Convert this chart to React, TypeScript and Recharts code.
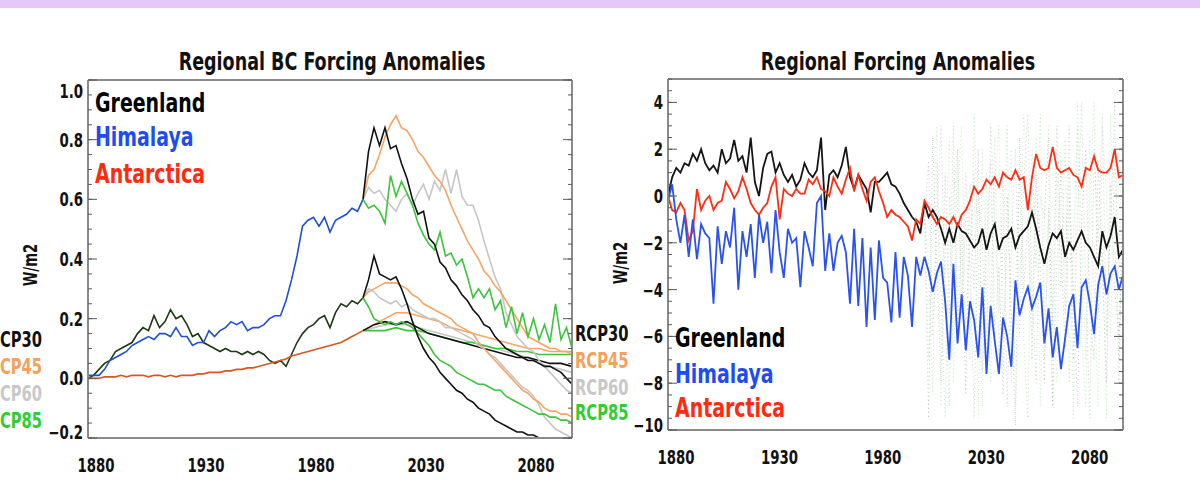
import React from 'react';
import { LineChart, Line, XAxis, YAxis } from 'recharts';

// year grids (categories)
const span = (a: number, b: number, step: number) => {
  const out: number[] = [];
  for (let v = a; v <= b + 1e-9; v += step) out.push(Math.round(v * 100) / 100);
  return out;
};
const HIST_YEARS = span(1880, 2005, 2.5);
const FUT_YEARS = span(2005, 2100, 2.5);
const FUT5_YEARS = span(2005, 2100, 5);
const R_YEARS = span(1880, 2100, 2);
const DOT_YEARS = span(2004, 2100, 2);

// ---- left panel: Regional BC forcing anomalies (W/m2)
const GRN_HIST = [0.00, 0.01, 0.03, 0.05, 0.06, 0.09, 0.10, 0.11, 0.12, 0.15,
  0.17, 0.16, 0.21, 0.17, 0.19, 0.23, 0.20, 0.21, 0.18, 0.14,
  0.15, 0.12, 0.11, 0.10, 0.09, 0.10, 0.09, 0.09, 0.08, 0.09,
  0.08, 0.09, 0.08, 0.06, 0.05, 0.06, 0.04, 0.08, 0.12, 0.15,
  0.17, 0.18, 0.20, 0.21, 0.17, 0.22, 0.25, 0.24, 0.26, 0.25, 0.27];
const HIM_HIST = [0.01, 0.01, 0.01, 0.03, 0.06, 0.07, 0.08, 0.09, 0.11, 0.12,
  0.13, 0.14, 0.13, 0.15, 0.15, 0.14, 0.17, 0.14, 0.14, 0.11,
  0.12, 0.12, 0.16, 0.14, 0.16, 0.17, 0.19, 0.18, 0.19, 0.16,
  0.17, 0.17, 0.18, 0.20, 0.21, 0.21, 0.26, 0.33, 0.41, 0.51,
  0.53, 0.54, 0.51, 0.54, 0.49, 0.53, 0.54, 0.55, 0.57, 0.56, 0.60];
const ANT_HIST = [0, 0, 0, 0.005, 0.005, 0.005, 0.01, 0.005, 0.01, 0.01,
  0.01, 0.005, 0.01, 0.01, 0.005, 0.01, 0.005, 0.01, 0.01, 0.01,
  0.015, 0.015, 0.02, 0.02, 0.02, 0.025, 0.025, 0.03, 0.03, 0.035,
  0.035, 0.04, 0.045, 0.05, 0.055, 0.06, 0.065, 0.075, 0.08, 0.085,
  0.09, 0.095, 0.10, 0.105, 0.11, 0.115, 0.12, 0.13, 0.14, 0.15, 0.16];

const HIM_RCP30 = [0.60, 0.76, 0.84, 0.78, 0.84, 0.77, 0.78, 0.72, 0.67, 0.60,
  0.55, 0.56, 0.47, 0.45, 0.39, 0.37, 0.33, 0.31, 0.28, 0.26,
  0.23, 0.21, 0.18, 0.17, 0.14, 0.12, 0.10, 0.09, 0.08, 0.07,
  0.06, 0.06, 0.05, 0.04, 0.04, 0.03, 0.02, 0.00, -0.02];
const HIM_RCP45 = [0.60, 0.68, 0.70, 0.75, 0.81, 0.85, 0.88, 0.84, 0.83, 0.80,
  0.76, 0.74, 0.71, 0.68, 0.66, 0.63, 0.58, 0.54, 0.50, 0.46,
  0.43, 0.40, 0.36, 0.34, 0.31, 0.29, 0.26, 0.23, 0.20, 0.17,
  0.14, 0.13, 0.12, 0.11, 0.10, 0.10, 0.09, 0.09, 0.08];
const HIM_RCP60 = [0.60, 0.64, 0.62, 0.63, 0.60, 0.58, 0.56, 0.60, 0.62, 0.58,
  0.62, 0.65, 0.60, 0.66, 0.63, 0.70, 0.62, 0.70, 0.61, 0.58,
  0.58, 0.53, 0.46, 0.40, 0.34, 0.30, 0.22, 0.18, 0.14, 0.12,
  0.10, 0.09, 0.06, 0.04, 0.02, 0.00, -0.02, -0.04, -0.05];
const HIM_RCP85 = [0.60, 0.57, 0.58, 0.56, 0.52, 0.68, 0.61, 0.66, 0.62, 0.58,
  0.52, 0.48, 0.45, 0.43, 0.49, 0.41, 0.42, 0.38, 0.40, 0.34,
  0.27, 0.30, 0.27, 0.30, 0.23, 0.26, 0.17, 0.24, 0.15, 0.22,
  0.14, 0.20, 0.13, 0.18, 0.12, 0.25, 0.13, 0.17, 0.10];

const GRN_RCP30 = [0.27, 0.33, 0.41, 0.35, 0.34, 0.33, 0.34, 0.30, 0.25, 0.19,
  0.14, 0.10, 0.07, 0.05, 0.02, 0.00, -0.02, -0.04, -0.05, -0.07,
  -0.08, -0.10, -0.11, -0.12, -0.14, -0.15, -0.16, -0.17, -0.18, -0.18,
  -0.19, -0.19, -0.20, -0.20, -0.21, -0.21, -0.22, -0.22, -0.23];
const GRN_RCP45 = [0.27, 0.29, 0.30, 0.31, 0.32, 0.32, 0.32, 0.31, 0.30, 0.28,
  0.27, 0.25, 0.24, 0.23, 0.22, 0.21, 0.20, 0.18, 0.17, 0.16,
  0.15, 0.12, 0.10, 0.08, 0.06, 0.04, 0.02, 0.00, -0.02, -0.04,
  -0.05, -0.07, -0.08, -0.10, -0.11, -0.11, -0.12, -0.12, -0.13];
const GRN_RCP60 = [0.27, 0.30, 0.29, 0.27, 0.26, 0.25, 0.26, 0.24, 0.25, 0.23,
  0.22, 0.21, 0.20, 0.20, 0.19, 0.17, 0.17, 0.16, 0.15, 0.14,
  0.13, 0.11, 0.10, 0.08, 0.07, 0.05, 0.03, 0.01, -0.01, -0.03,
  -0.04, -0.06, -0.09, -0.13, -0.15, -0.17, -0.18, -0.19, -0.20];
const GRN_RCP85 = [0.27, 0.24, 0.20, 0.19, 0.18, 0.19, 0.18, 0.19, 0.18, 0.17,
  0.15, 0.13, 0.11, 0.08, 0.06, 0.05, 0.04, 0.02, 0.01, 0.00,
  -0.01, -0.02, -0.02, -0.03, -0.04, -0.04, -0.06, -0.07, -0.08, -0.09,
  -0.10, -0.11, -0.12, -0.12, -0.13, -0.13, -0.14, -0.14, -0.15];

const ANT_RCP30 = [0.16, 0.18, 0.19, 0.18, 0.19, 0.17, 0.15, 0.14, 0.13, 0.12, 0.11, 0.10, 0.09, 0.08, 0.07, 0.07, 0.06, 0.05, 0.05, 0.04];
const ANT_RCP45 = [0.16, 0.18, 0.20, 0.22, 0.22, 0.21, 0.20, 0.19, 0.17, 0.16, 0.15, 0.14, 0.13, 0.12, 0.11, 0.10, 0.10, 0.09, 0.09, 0.09];
const ANT_RCP60 = [0.16, 0.17, 0.18, 0.18, 0.18, 0.17, 0.16, 0.15, 0.14, 0.13, 0.12, 0.11, 0.10, 0.09, 0.08, 0.07, 0.05, 0.04, 0.03, 0.02];
const ANT_RCP85 = [0.16, 0.16, 0.16, 0.17, 0.16, 0.16, 0.15, 0.14, 0.13, 0.12, 0.12, 0.11, 0.10, 0.10, 0.09, 0.09, 0.08, 0.08, 0.08, 0.08];

// ---- right panel: Regional forcing anomalies (W/m2)
const GRN_TOTAL = [0.0, 0.8, 1.2, 1.0, 1.4, 1.3, 1.8, 1.5, 2.0, 1.4,
  1.1, 1.3, 1.0, 2.0, 1.4, 1.6, 2.4, 1.5, 1.7, 1.0,
  2.5, 0.6, 0.0, 1.2, 1.8, 1.9, 1.0, 1.4, 0.9, 0.6,
  0.9, 0.4, 0.7, 1.4, 1.0, 0.8, 1.1, 2.5, -0.6, 0.9,
  1.1, 0.8, 1.3, 2.1, 0.8, 0.3, 0.9, 0.6, 0.3, -0.7,
  0.6, 0.6, 0.8, 1.0, 0.5, 0.4, 0.1, -0.3, -0.6, -0.9,
  -1.1, -1.6, -0.3, -0.9, -0.6, -0.9, -1.4, -2.0, -1.4, -2.0,
  -1.2, -1.5, -1.6, -1.9, -2.2, -2.0, -1.4, -2.3, -1.6, -1.2,
  -2.3, -1.8, -1.7, -1.4, -2.2, -1.7, -1.5, -1.3, -0.7, -1.4,
  -2.2, -2.9, -2.1, -1.6, -1.8, -1.5, -2.6, -2.0, -2.3, -1.9,
  -1.5, -2.0, -2.2, -2.6, -3.0, -1.5, -2.2, -1.7, -0.9, -2.6, -2.3];
const ANT_TOTAL = [0.0, -0.6, -0.7, -0.3, -0.6, -1.9, -1.5, 0.3, -0.6, -0.2,
  0.0, -0.6, -0.3, -0.2, 0.6, 0.3, -0.1, 0.2, 0.8, 0.3,
  -0.3, -0.6, -0.8, -0.5, -0.3, 0.4, 0.8, -1.0, 0.3, 0.1,
  0.0, 0.3, 0.1, 0.1, 0.7, 0.5, 0.8, 0.3, 0.2, 0.0,
  0.8, 0.4, 0.1, 0.7, 1.2, 0.2, 0.9, 0.3, -0.2, 0.6,
  0.8, 0.2, -0.3, -0.9, -0.6, -0.8, -0.9, -1.1, -1.3, -1.9,
  -1.0, -1.2, -0.2, -0.5, -0.9, -1.2, -0.9, -1.0, -1.2, -0.9,
  -1.3, -0.8, -0.6, -0.2, 0.4, 0.1, 0.3, 0.7, 0.5, 0.8,
  0.4, 1.0, 0.8, 0.7, 1.1, 0.7, 0.8, -0.6, 0.8, 1.8,
  1.2, 1.1, 1.2, 2.1, 1.2, 1.0, 1.1, 1.2, 0.9, 0.8,
  0.4, 1.2, 1.1, 1.7, 1.1, 1.0, 1.0, 1.2, 2.0, 0.8, 0.9];
const HIM_TOTAL = [-0.2, 0.5, -1.0, -2.0, -0.8, -2.6, -1.0, -2.7, -1.2, -1.6,
  -1.8, -4.6, -1.3, -2.9, -1.5, -2.2, -0.5, -4.0, -1.5, -2.6,
  -1.2, -3.5, -0.8, -2.0, -1.1, -3.3, -0.6, -2.4, -3.5, -1.4,
  -2.0, -1.8, -3.9, -1.5, -2.2, -3.0, -0.3, 0.0, -3.2, -1.6,
  -3.2, -2.0, -1.7, -2.4, -4.6, -1.4, -4.7, -1.8, -5.6, -2.2,
  -5.3, -1.9, -3.5, -3.7, -5.4, -2.4, -5.2, -2.6, -3.4, -5.6,
  -2.6, -3.4, -2.6, -3.2, -4.1, -3.3, -2.8, -4.5, -7.0, -2.9,
  -6.3, -4.2, -6.6, -4.5, -5.3, -6.9, -3.9, -7.6, -4.7, -6.2,
  -7.6, -5.2, -6.0, -7.3, -3.6, -5.1, -4.4, -3.9, -4.8, -4.3,
  -3.7, -6.3, -4.8, -6.9, -5.6, -7.4, -6.1, -4.7, -4.2, -6.5,
  -3.9, -3.6, -4.6, -5.9, -3.8, -3.0, -4.2, -3.3, -3.0, -4.0, -3.4];

const DOT_GRAY_A = [-0.5, -9.5, 2.5, -3, -8, 1, -5, 3, -6, -1,
  -8.5, 0.5, -4, 2, -7.5, -2, 1.5, -6, -3, -8.5,
  0, -5, -9.8, 2.5, -4, -1, -7, 1, -3, -8,
  -0.5, -5.5, 3, -2, -6.5, 0, -4, -9, -1, 2,
  -5, -7, 1.5, -3, -8, 0.5, -4, -6, -2];
const DOT_GRAY_B = [-1, 1.5, -6, -1, 3, -4, -9, 0, 2, -5,
  1, -3, -9.5, 0, -2, -7, 3, -1, -5, 1,
  -9, -2, 2, -6, 0.5, 3.5, -4, -8, 0, -1,
  2.5, -9, -3, 1, -5, 3, -7, -1, 4, -4,
  -9.5, 2, -2, 3.5, -6, -1, 4, -8, 0];
const DOT_GREEN_A = [-1, -3, -8.5, 1.5, -4, -9.5, 0, -6, 2, -5,
  -1, -7, 3.5, -3, -9, 1, -5, 2.5, -7, -2,
  3, -8, -4, 1, -6, -9.5, 2, -3, 3.5, -7,
  -1, -9, 1.5, -4, 2.5, -8, -2, 3, -6, -9,
  0, 4, -5, -1.5, -9.5, 3.5, -2, -7, 1];
const DOT_GREEN_B = [0, -7, -2, 3, -9, -3, 2.5, -8, 0, 3,
  -6, -2, 1, -9.5, 2, -4, -8, 0.5, 3, -6,
  -2, 2, -9, -4, 3.5, 0, -6, 2.5, -9, -1,
  3, -5, -8, 2, -3, 1, -9.5, 4, -2, -7,
  2.5, -4, -9, 3, 0, -6, 2, -3, 4.5];

// axis ticks
const X_MAJOR = [1880, 1930, 1980, 2030, 2080];
const X_MINOR = span(1880, 2100, 10);
const L_Y_MAJOR = [-0.2, 0, 0.2, 0.4, 0.6, 0.8, 1.0];
const L_Y_MINOR = span(-0.2, 1.0, 0.05);
const R_Y_MAJOR = [-10, -8, -6, -4, -2, 0, 2, 4];
const R_Y_MINOR = span(-10, 5, 0.5);

const FONT = "'Liberation Sans Narrow', 'DejaVu Sans Condensed', 'Arial Narrow', sans-serif";
const SX = 0.78; // the original lettering is very condensed
const FRAME = '#8a8a8a';
const TICK = '#5a5a5a';
const C_BLACK = '#111111';
const C_ORANGE = '#f5a566';
const C_GRAY = '#c6c6c6';
const C_GREEN = '#3cc43c';
const C_RED = '#ff2d12';

const pts = (years: number[], vals: number[]) => vals.map((v, i) => ({ yr: years[i], v }));

const txt = { fontFamily: FONT, fontWeight: 700 } as const;

// condensed text drawn at (x, y) baseline
const SText = ({ x, y, size, color, anchor = 'start', rot = 0, children }: any) => (
  <text
    transform={`translate(${x},${y})${rot ? ` rotate(${rot})` : ''} scale(${SX},1)`}
    textAnchor={anchor} fontSize={size} fill={color} style={txt}>
    {children}
  </text>
);

function frameAxes(k: string, xDom: number[], yDom: number[], yMinor: number[], yMajor: number[]) {
  const c = {
    type: 'number' as const,
    mirror: true,
    allowDataOverflow: true,
    interval: 0 as const,
    tickFormatter: () => '',
    tickLine: { stroke: TICK, strokeWidth: 1 },
  };
  const line = { stroke: FRAME, strokeWidth: 2 };
  return [
    <XAxis key={k + 'b1'} xAxisId={k + 'b1'} orientation="bottom" height={1} domain={xDom} ticks={X_MINOR} tickSize={4} axisLine={line} {...c} />,
    <XAxis key={k + 'b2'} xAxisId={k + 'b2'} orientation="bottom" height={1} domain={xDom} ticks={X_MAJOR} tickSize={8} axisLine={false} {...c} />,
    <XAxis key={k + 't1'} xAxisId={k + 't1'} orientation="top" height={1} domain={xDom} ticks={X_MINOR} tickSize={4} axisLine={line} {...c} />,
    <XAxis key={k + 't2'} xAxisId={k + 't2'} orientation="top" height={1} domain={xDom} ticks={X_MAJOR} tickSize={8} axisLine={false} {...c} />,
    <YAxis key={k + 'l1'} yAxisId={k + 'l1'} orientation="left" width={1} domain={yDom} ticks={yMinor} tickSize={4} axisLine={line} {...c} />,
    <YAxis key={k + 'l2'} yAxisId={k + 'l2'} orientation="left" width={1} domain={yDom} ticks={yMajor} tickSize={8} axisLine={false} {...c} />,
    <YAxis key={k + 'r1'} yAxisId={k + 'r1'} orientation="right" width={1} domain={yDom} ticks={yMinor} tickSize={4} axisLine={line} {...c} />,
    <YAxis key={k + 'r2'} yAxisId={k + 'r2'} orientation="right" width={1} domain={yDom} ticks={yMajor} tickSize={8} axisLine={false} {...c} />,
  ];
}

const XTick = (p: any) => (
  <SText x={p.x + 8} y={p.y + 26} size={19} color="#111" anchor="middle">{p.payload.value}</SText>
);

const makeYTick = (dom: number[], digits: number, bottomShift: number) => (p: any) => {
  const v = p.payload.value;
  let dy = 7;
  if (v === dom[1]) dy += 11;
  if (v === dom[0]) dy += bottomShift;
  const label = v.toFixed(digits).replace('-', '\u2212');
  return <SText x={p.x + 3} y={p.y + dy} size={19} color="#111" anchor="end">{label}</SText>;
};

const L_XDOM = [1880, 2100];
const L_YDOM = [-0.2, 1.0];
const R_YDOM = [-10, 5];

const leftSeries = [
  { id: 'gh', d: pts(HIST_YEARS, GRN_HIST), c: '#1d3a14' },
  { id: 'hh', d: pts(HIST_YEARS, HIM_HIST), c: '#1f4fd8' },
  { id: 'ah', d: pts(HIST_YEARS, ANT_HIST), c: '#d9561f' },
  { id: 'a60', d: pts(FUT5_YEARS, ANT_RCP60), c: C_GRAY },
  { id: 'a45', d: pts(FUT5_YEARS, ANT_RCP45), c: C_ORANGE },
  { id: 'a85', d: pts(FUT5_YEARS, ANT_RCP85), c: C_GREEN },
  { id: 'a30', d: pts(FUT5_YEARS, ANT_RCP30), c: C_BLACK },
  { id: 'g60', d: pts(FUT_YEARS, GRN_RCP60), c: C_GRAY },
  { id: 'g45', d: pts(FUT_YEARS, GRN_RCP45), c: C_ORANGE },
  { id: 'g85', d: pts(FUT_YEARS, GRN_RCP85), c: C_GREEN },
  { id: 'g30', d: pts(FUT_YEARS, GRN_RCP30), c: C_BLACK },
  { id: 'h60', d: pts(FUT_YEARS, HIM_RCP60), c: C_GRAY },
  { id: 'h45', d: pts(FUT_YEARS, HIM_RCP45), c: C_ORANGE },
  { id: 'h85', d: pts(FUT_YEARS, HIM_RCP85), c: C_GREEN },
  { id: 'h30', d: pts(FUT_YEARS, HIM_RCP30), c: C_BLACK },
];

const dotSeries = [
  { id: 'dga', d: pts(DOT_YEARS, DOT_GRAY_A), c: '#8c8c8c' },
  { id: 'dna', d: pts(DOT_YEARS, DOT_GREEN_A), c: '#78cf78' },
  { id: 'dgb', d: pts(DOT_YEARS, DOT_GRAY_B), c: '#9a9a9a' },
  { id: 'dnb', d: pts(DOT_YEARS, DOT_GREEN_B), c: '#8ad88a' },
];

const rightSeries = [
  { id: 'grn', d: pts(R_YEARS, GRN_TOTAL), c: '#151515' },
  { id: 'ant', d: pts(R_YEARS, ANT_TOTAL), c: C_RED },
  { id: 'him', d: pts(R_YEARS, HIM_TOTAL), c: '#2a52f2' },
];

const RCP_LABELS = ['RCP30', 'RCP45', 'RCP60', 'RCP85'];
const RCP_COLORS = ['#111111', '#f5a05c', '#c8c8c8', '#33cc33'];
const REGIONS = ['Greenland', 'Himalaya', 'Antarctica'];
const REGION_COLORS = ['#000000', '#1e4cf4', '#ff2a10'];

export default function App() {
  return (
    <div style={{ position: 'absolute', left: 0, top: 0, width: 1200, height: 498, background: '#fff' }}>
      <div style={{ position: 'absolute', left: 0, top: 0, width: 1200, height: 8, background: '#e4c9f8' }} />

      <div style={{ position: 'absolute', left: 0, top: 0 }}>
        <LineChart width={600} height={498} margin={{ top: 80, right: 28, bottom: 0, left: 0 }}>
          <XAxis xAxisId="main" dataKey="yr" type="number" domain={L_XDOM} ticks={X_MAJOR} interval={0}
            height={60} axisLine={false} tickLine={false} tick={XTick} allowDataOverflow />
          <YAxis yAxisId="main" type="number" domain={L_YDOM} ticks={L_Y_MAJOR} interval={0}
            width={88} axisLine={false} tickLine={false} tick={makeYTick(L_YDOM, 1, -6)} allowDataOverflow />
          {frameAxes('L', L_XDOM, L_YDOM, L_Y_MINOR, L_Y_MAJOR)}
          {leftSeries.map(s => (
            <Line key={s.id} xAxisId="main" yAxisId="main" data={s.d} dataKey="v" type="linear"
              stroke={s.c} strokeWidth={1.6} dot={false} isAnimationActive={false} />
          ))}
        </LineChart>
      </div>

      <div style={{ position: 'absolute', left: 600, top: 0 }}>
        <LineChart width={600} height={498} margin={{ top: 79, right: 77, bottom: 0, left: 0 }}>
          <XAxis xAxisId="main" dataKey="yr" type="number" domain={L_XDOM} ticks={X_MAJOR} interval={0}
            height={68} axisLine={false} tickLine={false} tick={XTick} allowDataOverflow />
          <YAxis yAxisId="main" type="number" domain={R_YDOM} ticks={R_Y_MAJOR} interval={0}
            width={68} axisLine={false} tickLine={false} tick={makeYTick(R_YDOM, 0, -5)} allowDataOverflow />
          {frameAxes('R', L_XDOM, R_YDOM, R_Y_MINOR, R_Y_MAJOR)}
          {dotSeries.map(s => (
            <Line key={s.id} xAxisId="main" yAxisId="main" data={s.d} dataKey="v" type="linear"
              stroke={s.c} strokeWidth={1} strokeDasharray="1 3" strokeOpacity={0.45} dot={false} isAnimationActive={false} />
          ))}
          {rightSeries.map(s => (
            <Line key={s.id} xAxisId="main" yAxisId="main" data={s.d} dataKey="v" type="linear"
              stroke={s.c} strokeWidth={1.8} dot={false} isAnimationActive={false} />
          ))}
        </LineChart>
      </div>

      <svg width={1200} height={498} style={{ position: 'absolute', left: 0, top: 0, pointerEvents: 'none' }}>
        <SText x={332} y={70} size={25} color="#111" anchor="middle">Regional BC Forcing Anomalies</SText>
        <SText x={898} y={70} size={25} color="#111" anchor="middle">Regional Forcing Anomalies</SText>

        {REGIONS.map((r, i) => (
          <SText key={'l' + r} x={95} y={[112, 146, 183][i]} size={27} color={REGION_COLORS[i]}>{r}</SText>
        ))}
        {REGIONS.map((r, i) => (
          <SText key={'r' + r} x={675} y={[347, 383, 417][i]} size={27} color={REGION_COLORS[i]}>{r}</SText>
        ))}

        {RCP_LABELS.map((r, i) => (
          <SText key={'a' + r} x={42} y={347 + i * 27} anchor="end" size={21} color={RCP_COLORS[i]}>{r}</SText>
        ))}
        {RCP_LABELS.map((r, i) => (
          <SText key={'b' + r} x={575} y={[341, 368, 395, 420][i]} size={21} color={RCP_COLORS[i]}>{r}</SText>
        ))}

        <SText x={37} y={265} rot={-90} size={19} color="#111" anchor="middle">W/m2</SText>
        <SText x={627} y={263} rot={-90} size={19} color="#111" anchor="middle">W/m2</SText>
      </svg>
    </div>
  );
}
